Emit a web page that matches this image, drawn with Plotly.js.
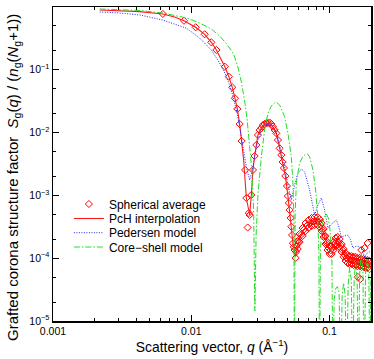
<!DOCTYPE html>
<html>
<head>
<meta charset="utf-8">
<script src="https://cdn.plot.ly/plotly-3.0.1.min.js"></script>
<style>
  html, body { margin: 0; padding: 0; background: #fff; }
  #plot { width: 374px; height: 359px; }
</style>
</head>
<body>
<div id="plot"></div>
<script>
// spherical average (simulation points)
var qSph = [0.00623, 0.00886, 0.01076, 0.0125, 0.01397, 0.01519, 0.0175, 0.0187, 0.0198, 0.0207,
  0.02154, 0.02239, 0.02314, 0.02453, 0.02503, 0.02557, 0.0261, 0.02644, 0.0272, 0.02793,
  0.02874, 0.02956, 0.03036, 0.03124, 0.03212, 0.033, 0.03393, 0.03491, 0.03585, 0.03688,
  0.03794, 0.03896, 0.04009, 0.04124, 0.04236, 0.04357, 0.04482, 0.0458, 0.04681, 0.04791,
  0.0492, 0.05003, 0.05078, 0.05146, 0.05233, 0.05294, 0.05365, 0.05437, 0.05519, 0.05593,
  0.05687, 0.05735, 0.05783,
  0.0588, 0.0588, 0.06078, 0.06078, 0.0639, 0.0639, 0.06718, 0.06718, 0.07061, 0.07061,
  0.07422, 0.07422, 0.07804, 0.07804, 0.08204, 0.08204, 0.0848, 0.0848, 0.08768, 0.08768,
  0.09063, 0.09063, 0.09371, 0.09371, 0.09689, 0.09689, 0.10016, 0.10016, 0.1035, 0.1035,
  0.1071, 0.1071, 0.1107, 0.1107, 0.1144, 0.1144, 0.1183, 0.1183, 0.1223, 0.1223,
  0.1265, 0.1265, 0.1307, 0.1307, 0.1352, 0.1352, 0.1397, 0.1397, 0.1445, 0.1445,
  0.1494, 0.1494, 0.1544, 0.1544, 0.1596, 0.1596, 0.165, 0.165, 0.1706, 0.1706,
  0.1764, 0.1764, 0.1824, 0.1824, 0.1886, 0.1886, 0.195, 0.195,
  0.0598, 0.0623, 0.0655, 0.0689, 0.0724, 0.0761, 0.08, 0.0834, 0.0862, 0.0891,
  0.0922, 0.0953, 0.0985, 0.1018, 0.1053, 0.1089, 0.1125, 0.1163, 0.1203, 0.1244,
  0.1286, 0.1329, 0.1374, 0.1421, 0.1469, 0.1519, 0.157, 0.1623, 0.1678, 0.1735,
  0.1794, 0.1855, 0.1918,
  0.1604, 0.167, 0.1886, 0.1794, 0.1698];
var sSph = [0.774, 0.605, 0.475, 0.3675, 0.274, 0.207, 0.112, 0.0777, 0.0526, 0.0352,
  0.0238, 0.0137, 0.00735, 0.00254, 0.000909, 0.000308, 0.000524, 0.000487, 0.001015, 0.00254,
  0.00424, 0.00635, 0.00916, 0.011, 0.01183, 0.01321, 0.0137, 0.01422, 0.01422, 0.01448,
  0.0137, 0.01242, 0.011, 0.00975, 0.00762, 0.00562, 0.0044, 0.0034, 0.00273, 0.00204,
  0.001412, 0.000978, 0.000757, 0.000586, 0.000437, 0.000317, 0.000234, 0.000173, 0.000151, 0.000135,
  0.000101, 0.000126, 0.000156,
  0.000188, 0.00014, 0.000243, 0.000181, 0.000303, 0.000226, 0.000363, 0.000271, 0.000406, 0.000303,
  0.000437, 0.000326, 0.000453, 0.000338, 0.000453, 0.000338, 0.000421, 0.000314, 0.000363, 0.000271,
  0.000292, 0.000218, 0.000226, 0.000168, 0.000181, 0.000135, 0.000156, 0.000117, 0.000156, 0.000117,
  0.000181, 0.000135, 0.00021, 0.000156, 0.000218, 0.000162, 0.000202, 0.000151, 0.000168, 0.000126,
  0.00014, 0.000105, 0.000121, 0.0000902, 0.000112, 0.0000839, 0.000108, 0.0000808, 0.000108, 0.0000808,
  0.000105, 0.0000779, 0.000105, 0.0000779, 0.000101, 0.0000751, 0.000101, 0.0000751, 0.0000971, 0.0000724,
  0.0000971, 0.0000724, 0.0000936, 0.0000698, 0.0000936, 0.0000698, 0.0000902, 0.0000673,
  0.000185, 0.000235, 0.000287, 0.000332, 0.000363, 0.000384, 0.000391, 0.000377, 0.000339, 0.000283,
  0.000222, 0.000175, 0.000145, 0.000135, 0.000145, 0.000168, 0.000185, 0.000182, 0.00016, 0.000133,
  0.000113, 0.000101, 0.0000953, 0.0000936, 0.0000919, 0.0000902, 0.0000886, 0.000087, 0.0000855, 0.0000839,
  0.0000824, 0.0000808, 0.0000794,
  0.0000502, 0.0000466, 0.000175, 0.000145, 0.000135];

// PcH interpolation
var qPch = [0.002177, 0.003035, 0.004236, 0.00623, 0.007586, 0.00886, 0.01076, 0.0125, 0.01397, 0.01519,
  0.01632, 0.0175, 0.0187, 0.0198, 0.0207, 0.02154, 0.02239, 0.02314, 0.02393, 0.02503,
  0.026, 0.02644, 0.0272, 0.02793, 0.02874, 0.03036, 0.03212, 0.03393, 0.03585, 0.03688,
  0.03896, 0.04124, 0.04357, 0.0458, 0.04791, 0.05003, 0.05146, 0.05294, 0.05437, 0.05687,
  0.0588, 0.06078, 0.0639, 0.06718, 0.07061, 0.07422, 0.07804, 0.08204, 0.0848, 0.08768,
  0.09063, 0.09371, 0.09689, 0.10016, 0.1035, 0.1071, 0.1107, 0.1144, 0.1183, 0.1223,
  0.1265, 0.1307, 0.1352, 0.1397, 0.1445, 0.1494, 0.1544, 0.1596, 0.165, 0.1706,
  0.1764, 0.1824, 0.1886, 0.195, 0.1992];
var sPch = [0.896, 0.88, 0.845, 0.774, 0.693, 0.605, 0.475, 0.3675, 0.274, 0.207,
  0.1542, 0.112, 0.0777, 0.0526, 0.0352, 0.0238, 0.0137, 0.00735, 0.00366, 0.000909,
  0.000524, 0.000487, 0.001015, 0.00254, 0.00424, 0.00916, 0.01183, 0.0137, 0.01422, 0.01448,
  0.01242, 0.00975, 0.00562, 0.0034, 0.00204, 0.000978, 0.000586, 0.000317, 0.000173, 0.000106,
  0.000162, 0.00021, 0.000261, 0.000314, 0.00035, 0.000377, 0.000391, 0.000391, 0.000363, 0.000314,
  0.000252, 0.000195, 0.000156, 0.000135, 0.000135, 0.000156, 0.000181, 0.000188, 0.000175, 0.000145,
  0.000121, 0.000105, 0.0000971, 0.0000936, 0.0000936, 0.0000902, 0.0000902, 0.000087, 0.000087, 0.0000839,
  0.0000839, 0.0000808, 0.0000808, 0.0000779, 0.0000779];

// Pedersen model
var qPed = [0.002177, 0.003035, 0.004236, 0.006212, 0.009262, 0.011496, 0.01397, 0.016044, 0.0175, 0.0187,
  0.0198, 0.0207, 0.02154, 0.02239, 0.02303, 0.02503, 0.02644, 0.02765, 0.02874, 0.03036,
  0.03212, 0.03393, 0.03585, 0.03794, 0.03896, 0.04124, 0.04357, 0.04681, 0.05003, 0.05294,
  0.05593, 0.0588, 0.06253, 0.06607, 0.07179, 0.07804, 0.08243, 0.08724, 0.09217, 0.09736,
  0.1035, 0.112, 0.1164, 0.1217, 0.1286, 0.1358, 0.1421, 0.1476, 0.1557, 0.165,
  0.172, 0.1794, 0.187, 0.195, 0.2016];
var sPed = [0.833, 0.803, 0.746, 0.621, 0.458, 0.321, 0.2067, 0.1283, 0.0889, 0.0616,
  0.0412, 0.0285, 0.0198, 0.01228, 0.0086, 0.00286, 0.00176, 0.00254, 0.00413, 0.00762,
  0.011, 0.01321, 0.0137, 0.01321, 0.01206, 0.00986, 0.00635, 0.00328, 0.001464, 0.000845,
  0.001464, 0.00219, 0.00263, 0.00236, 0.001219, 0.000487, 0.000703, 0.000909, 0.000586, 0.000303,
  0.00035, 0.000406, 0.000326, 0.000218, 0.000226, 0.000234, 0.000195, 0.000145, 0.000156, 0.000152,
  0.000135, 0.000105, 0.000121, 0.000127, 0.00012];

// core-shell model
var qCs = [0.002177, 0.003035, 0.004236, 0.006212, 0.009262, 0.011496, 0.01397, 0.016044, 0.01803, 0.020258,
  0.02165, 0.02303, 0.02453, 0.02545, 0.02644, 0.02734, 0.02826, 0.02884, 0.02946, 0.03036,
  0.03212, 0.03393, 0.03585, 0.03794, 0.04009, 0.04111, 0.04357, 0.04735, 0.05003, 0.05294,
  0.05437, 0.05519, 0.05574, 0.05639, 0.05754, 0.06078, 0.0639, 0.06662, 0.06944, 0.07179,
  0.07586, 0.07933, 0.08204, 0.08368, 0.0848, 0.0859, 0.0884, 0.09141, 0.09482, 0.09802,
  0.1013, 0.1041, 0.1058, 0.108, 0.1107, 0.114, 0.1173, 0.1203, 0.1234, 0.1265,
  0.1297, 0.133, 0.1363, 0.1397, 0.1438, 0.1469, 0.1506, 0.1544, 0.1583, 0.1618,
  0.165, 0.1698, 0.1744, 0.1779, 0.1824, 0.1877, 0.1924, 0.1966, 0.1992];
var sCs = [0.929, 0.912, 0.88, 0.803, 0.668, 0.556, 0.446, 0.345, 0.2575, 0.1785,
  0.115, 0.0639, 0.0285, 0.01475, 0.00635, 0.00273, 0.000586, 0.0000144, 0.000234, 0.001015,
  0.00413, 0.011, 0.0203, 0.02652, 0.0299, 0.0307, 0.0275, 0.0179, 0.00975, 0.00413,
  0.001576, 0.000487, 0.000001, 0.000487, 0.001576, 0.00328, 0.00409, 0.00448, 0.00456, 0.00413,
  0.00254, 0.001219, 0.000487, 0.000135, 0.000001, 0.000135, 0.000338, 0.000453, 0.000505, 0.000437,
  0.000261, 0.000087, 0.000001, 0.0000216, 0.0000323, 0.0000354, 0.000029, 0.000001, 0.000026, 0.0000403,
  0.000026, 0.000001, 0.0000374, 0.0000698, 0.000045, 0.000001, 0.000045, 0.000087, 0.0000484, 0.000001,
  0.000054, 0.00012, 0.0000603, 0.000001, 0.0000603, 0.000105, 0.000054, 0.000001, 0.000054];

var xTicks = [0.001, 0.01, 0.1];
var xTickText = ["0.001", "0.01", "0.1"];
var yTicks = [1e-5, 1e-4, 1e-3, 1e-2, 1e-1, 1];
var yTickText = ["10<sup>\u22125</sup>", "10<sup>\u22124</sup>", "10<sup>\u22123</sup>",
  "10<sup>\u22122</sup>", "10<sup>\u22121</sup>", "10<sup>0</sup>"];
var yMinor = [2e-5, 5e-5, 2e-4, 5e-4, 2e-3, 5e-3, 2e-2, 5e-2, 0.2, 0.5];

var font = "Liberation Sans, Arial, sans-serif";

var traces = [
  {x: qSph, y: sSph, mode: "markers", type: "scatter", name: "Spherical average", legend: "legend",
   marker: {symbol: "diamond-open", size: 5.5, color: "#ff0000", line: {width: 1}}},
  {x: qPch, y: sPch, mode: "lines", type: "scatter", name: "PcH interpolation", legend: "legend2",
   line: {color: "#ff1a1a", width: 1.1}},
  {x: qPed, y: sPed, mode: "lines", type: "scatter", name: "Pedersen model", legend: "legend3",
   line: {color: "#2222ff", width: 1, dash: "1px,1.5px"}},
  {x: qCs, y: sCs, mode: "lines", type: "scatter", name: "Core\u2212shell model", legend: "legend4",
   line: {color: "#22dd22", width: 1, dash: "6px,2px,1.5px,2px"}}
];

function legendAt(rowPx) {
  return {x: 0.05, y: (321 - rowPx) / 314, xanchor: "left", yanchor: "middle",
          bgcolor: "rgba(0,0,0,0)", borderwidth: 0, font: {size: 12}};
}

var layout = {
  width: 374, height: 359,
  margin: {l: 53, r: 3, t: 7, b: 38},
  paper_bgcolor: "#fff", plot_bgcolor: "#fff",
  font: {family: font, size: 12, color: "#000"},
  showlegend: true,
  legend: legendAt(204),
  legend2: legendAt(218.5),
  legend3: legendAt(232.7),
  legend4: legendAt(247),
  xaxis: {
    type: "log", range: [-3, -0.7],
    tickvals: xTicks, ticktext: xTickText,
    ticks: "inside", ticklen: 6, tickcolor: "#000",
    showline: true, linecolor: "#000", linewidth: 1.5, mirror: "allticks",
    showgrid: false, zeroline: false,
    tickfont: {size: 10.5},
    minor: {dtick: "D1", ticks: "inside", ticklen: 3, tickcolor: "#000", showgrid: false},
    title: {text: "Scattering vector, <i>q</i> (\u00c5<sup>\u22121</sup>)", font: {size: 13.9}, standoff: 4}
  },
  yaxis: {
    type: "log", range: [-5, 0],
    tickvals: yTicks, ticktext: yTickText,
    ticks: "inside", ticklen: 6, tickcolor: "#000",
    showline: true, linecolor: "#000", linewidth: 1.5, mirror: "allticks",
    showgrid: false, zeroline: false,
    tickfont: {size: 10.5},
    minor: {tickvals: yMinor, ticks: "inside", ticklen: 3, tickcolor: "#000", showgrid: false}
  },
  annotations: [{
    text: "Grafted corona structure factor\u00a0 <i>S</i><sub>g</sub>(<i>q</i>) / (<i>n</i><sub>g</sub>(<i>N</i><sub>g</sub>+1))",
    textangle: -90, xref: "paper", yref: "paper",
    x: (13 - 53) / 318, y: (321 - 178) / 314, xanchor: "center", yanchor: "middle",
    showarrow: false, font: {size: 15}
  }]
};

Plotly.newPlot("plot", traces, layout, {displayModeBar: false, staticPlot: true});
</script>
</body>
</html>
